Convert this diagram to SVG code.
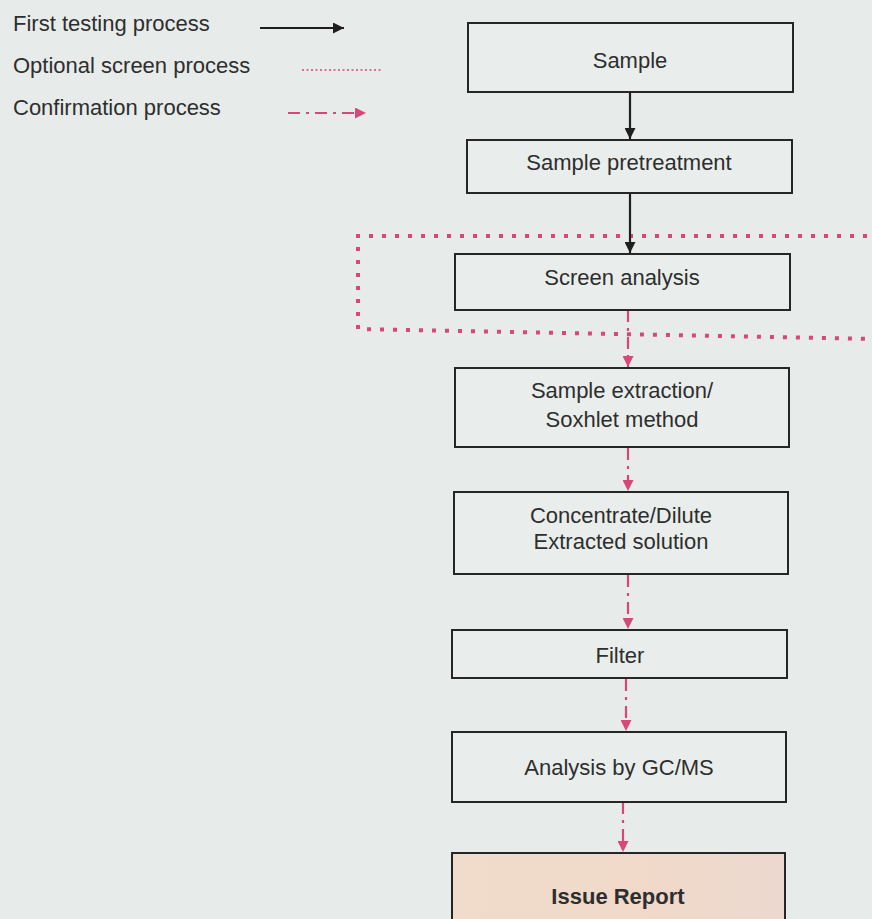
<svg xmlns="http://www.w3.org/2000/svg" width="872" height="919" viewBox="0 0 872 919">
<style>
text{font-family:"Liberation Sans",Arial,sans-serif;font-size:22px;fill:#2e2e2e}
.c{text-anchor:middle}
.box{fill:#e9eeec;stroke:#262626;stroke-width:2}
.solid{stroke:#1e1e1e;stroke-width:2.2;fill:none}
.conf{stroke:#d9467a;stroke-width:2.2;fill:none;stroke-dasharray:12 6 3 6}
.scr{stroke:#d9467a;stroke-width:4;fill:none;stroke-dasharray:4 9}
</style>
<defs>
<marker id="ab" viewBox="0 0 10 10" refX="10" refY="5" markerWidth="5" markerHeight="5" orient="auto" markerUnits="strokeWidth"><path d="M0,0 L10,5 L0,10 z" fill="#1e1e1e"/></marker>
<marker id="ap" viewBox="0 0 10 10" refX="10" refY="5" markerWidth="6" markerHeight="5" orient="auto" markerUnits="strokeWidth"><path d="M0,0 L10,5 L0,10 z" fill="#d9467a"/></marker>
<linearGradient id="peach" x1="0" y1="0" x2="1" y2="0"><stop offset="0" stop-color="#f1dccb"/><stop offset="0.6" stop-color="#f0d9c9"/><stop offset="1" stop-color="#ecd8cf"/></linearGradient>
</defs>
<rect width="872" height="919" fill="#e7ecea"/>
<g id="legend">
<text x="13" y="31">First testing process</text>
<text x="13" y="73">Optional screen process</text>
<text x="13" y="115">Confirmation process</text>
<line x1="260" y1="28" x2="344" y2="28" class="solid" marker-end="url(#ab)"/>
<line x1="302" y1="70" x2="383" y2="70" stroke="#d9467a" stroke-width="1.5" stroke-dasharray="2 2.5"/>
<line x1="288" y1="113" x2="366" y2="113" class="conf" marker-end="url(#ap)"/>
</g>
<g id="screen-region">
<path d="M880,236 L358,236 L358,329 L880,339" class="scr"/>
</g>
<g id="connectors">
<line x1="630" y1="92" x2="630" y2="139" class="solid" marker-end="url(#ab)"/>
<line x1="630" y1="193" x2="630" y2="253" class="solid" marker-end="url(#ab)"/>
<line x1="628" y1="310" x2="628" y2="367" class="conf" marker-end="url(#ap)"/>
<line x1="628" y1="448" x2="628" y2="491" class="conf" marker-end="url(#ap)"/>
<line x1="628" y1="575" x2="628" y2="629" class="conf" marker-end="url(#ap)"/>
<line x1="626" y1="679" x2="626" y2="731" class="conf" marker-end="url(#ap)"/>
<line x1="623" y1="802" x2="623" y2="852" class="conf" marker-end="url(#ap)"/>
</g>
<g id="sample">
<rect class="box" x="468" y="23" width="325" height="69"/>
<text class="c" x="630" y="68">Sample</text>
</g>
<g id="pretreatment">
<rect class="box" x="467" y="140" width="325" height="53"/>
<text class="c" x="629" y="170">Sample pretreatment</text>
</g>
<g id="screen">
<rect class="box" x="455" y="254" width="335" height="56"/>
<text class="c" x="622" y="285">Screen analysis</text>
</g>
<g id="extraction">
<rect class="box" x="455" y="368" width="334" height="79"/>
<text class="c" x="622" y="398">Sample extraction/</text>
<text class="c" x="622" y="427">Soxhlet method</text>
</g>
<g id="concentrate">
<rect class="box" x="454" y="492" width="334" height="82"/>
<text class="c" x="621" y="523">Concentrate/Dilute</text>
<text class="c" x="621" y="549">Extracted solution</text>
</g>
<g id="filter">
<rect class="box" x="452" y="630" width="335" height="48"/>
<text class="c" x="620" y="663">Filter</text>
</g>
<g id="gcms">
<rect class="box" x="452" y="732" width="334" height="70"/>
<text class="c" x="619" y="775">Analysis by GC/MS</text>
</g>
<g id="report">
<rect x="452" y="853" width="333" height="80" fill="url(#peach)" stroke="#262626" stroke-width="2"/>
<text class="c" x="618" y="904" font-weight="bold">Issue Report</text>
</g>
</svg>
